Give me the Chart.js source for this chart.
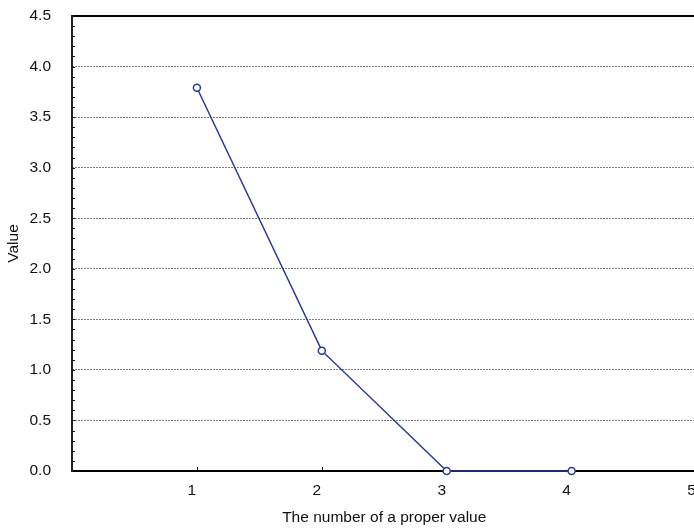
<!DOCTYPE html>
<html>
<head>
<meta charset="utf-8">
<script src="https://cdn.jsdelivr.net/npm/chart.js@4/dist/chart.umd.min.js"></script>
<style>
html,body{margin:0;padding:0;background:#fff;overflow:hidden;}
#wrap{width:702px;height:528px;}
</style>
</head>
<body>
<div id="wrap"><canvas id="c" width="702" height="528"></canvas></div>
<script>
const properValueNumbers = [1, 2, 3, 4];
const values = [3.79, 1.19, 0, 0];
const xTicks = [1, 2, 3, 4, 5];
const yTicks = [0, 0.5, 1.0, 1.5, 2.0, 2.5, 3.0, 3.5, 4.0, 4.5];

const FONT = "'Liberation Sans', Arial, sans-serif";
const FS = 15.5;

const framePlugin = {
  id: 'frame',
  beforeDatasetsDraw(chart) {
    const {ctx, chartArea: a, scales} = chart;
    const ys = scales.y, xs = scales.x;
    ctx.save();
    ctx.strokeStyle = '#111';
    ctx.lineWidth = 1;
    for (let i = 1; i < 45; i++) {
      const py = Math.round(ys.getPixelForValue(i / 10)) + 0.5;
      ctx.beginPath();
      ctx.moveTo(a.left, py);
      ctx.lineTo(a.left + 3, py);
      ctx.stroke();
    }
    xTicks.forEach(v => {
      const px = Math.round(xs.getPixelForValue(v)) + 0.5;
      ctx.beginPath();
      ctx.moveTo(px, a.bottom);
      ctx.lineTo(px, a.bottom - 4);
      ctx.stroke();
    });
    ctx.lineWidth = 2;
    ctx.strokeStyle = '#000';
    ctx.beginPath();
    ctx.moveTo(a.left - 1, a.top);
    ctx.lineTo(a.right + 20, a.top);
    ctx.stroke();
    ctx.beginPath();
    ctx.moveTo(a.left - 1, a.bottom);
    ctx.lineTo(a.right + 20, a.bottom);
    ctx.stroke();
    ctx.strokeStyle = '#222';
    ctx.beginPath();
    ctx.moveTo(a.left, a.top - 1);
    ctx.lineTo(a.left, a.bottom + 1);
    ctx.stroke();
    ctx.restore();
  }
};

new Chart(document.getElementById('c'), {
  type: 'scatter',
  data: {
    datasets: [{
      data: properValueNumbers.map((x, i) => ({x: x, y: values[i]})),
      showLine: true,
      borderColor: '#2b3a94',
      borderWidth: 1.5,
      pointRadius: 3.5,
      pointBorderWidth: 1.5,
      pointBackgroundColor: '#ffffff',
      pointBorderColor: '#2b3a94',
      clip: false
    }]
  },
  options: {
    responsive: false,
    animation: false,
    devicePixelRatio: 1,
    layout: {padding: {left: 0, top: 16, right: 4, bottom: 0}},
    plugins: {legend: {display: false}, tooltip: {enabled: false}},
    scales: {
      x: {
        type: 'linear',
        min: 0, max: 5,
        afterBuildTicks: s => { s.ticks = xTicks.map(v => ({value: v})); },
        afterFit: s => { s.height = 57; s.paddingLeft = 0; s.paddingRight = 0; },
        border: {display: false},
        grid: {display: false, drawTicks: false},
        ticks: {
          font: {family: FONT, size: FS}, color: '#111',
          padding: 10, labelOffset: -5, maxRotation: 0,
          callback: v => String(v)
        },
        title: {
          display: true, text: 'The number of a proper value',
          font: {family: FONT, size: FS}, color: '#111',
          padding: {top: 0, bottom: 1}
        }
      },
      y: {
        min: 0, max: 4.5,
        afterBuildTicks: s => { s.ticks = yTicks.map(v => ({value: v})); },
        afterFit: s => { s.width = 72; s.paddingTop = 0; s.paddingBottom = 0; },
        border: {display: false, dash: [2, 1]},
        grid: {
          drawTicks: false,
          color: c => (c.tick && (c.tick.value === 0 || c.tick.value === 4.5)) ? 'rgba(0,0,0,0)' : '#7a7a7a',
          lineWidth: 1
        },
        ticks: {
          font: {family: FONT, size: FS}, color: '#111',
          padding: 21,
          callback: v => v.toFixed(1)
        },
        title: {
          display: true, text: 'Value',
          font: {family: FONT, size: FS}, color: '#111',
          padding: {top: 4, bottom: 0}
        }
      }
    }
  },
  plugins: [framePlugin]
});
</script>
</body>
</html>
